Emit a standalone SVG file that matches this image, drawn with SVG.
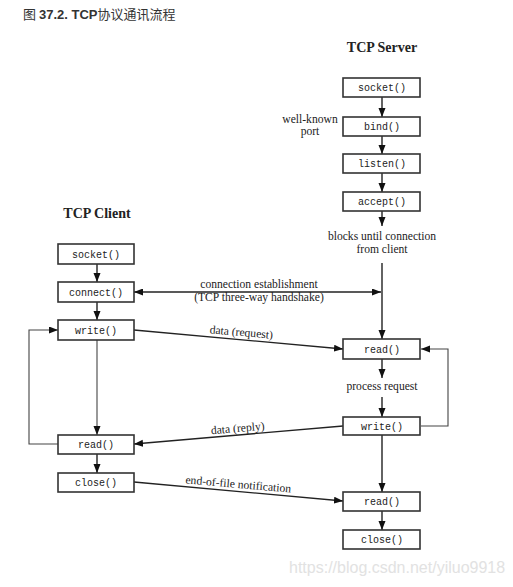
<svg xmlns="http://www.w3.org/2000/svg" width="513" height="587" viewBox="0 0 513 587">
<style>
.box{fill:#fff;stroke:#333;stroke-width:1.6}
.fn{font-family:"Liberation Mono","Courier New",monospace;font-size:10px;fill:#222;text-anchor:middle}
.lbl{font-family:"Liberation Serif","Times New Roman",serif;font-size:11.6px;fill:#222;text-anchor:middle}
.hd{font-family:"Liberation Serif","Times New Roman",serif;font-size:14px;font-weight:bold;fill:#222;text-anchor:middle}
.ln{fill:none;stroke:#222;stroke-width:1.4}
.thin{fill:none;stroke:#444;stroke-width:1.1}
</style>
<defs>
<marker id="ah" markerUnits="userSpaceOnUse" markerWidth="10" markerHeight="8" refX="9" refY="3.5" orient="auto">
<path d="M0,0 L9,3.5 L0,7 z" fill="#111"/>
</marker>
<marker id="ahs" markerUnits="userSpaceOnUse" markerWidth="10" markerHeight="8" refX="0" refY="3.5" orient="auto">
<path d="M9,0 L0,3.5 L9,7 z" fill="#111"/>
</marker>
</defs>
<rect width="513" height="587" fill="#fff"/>
<text x="23" y="19" font-family="'Noto Sans CJK SC',sans-serif" font-size="13" fill="#333">图 <tspan font-family="'Liberation Sans',Arial,sans-serif" font-weight="bold">37.2. TCP</tspan>协议通讯流程</text>

<text class="hd" x="382" y="52">TCP Server</text>
<text class="hd" x="97" y="218">TCP Client</text>

<g id="labels">
<text class="lbl" x="310" y="123">well-known</text>
<text class="lbl" x="310" y="135">port</text>
<text class="lbl" x="382" y="240">blocks until connection</text>
<text class="lbl" x="382" y="253">from client</text>
<text class="lbl" x="259" y="288">connection establishment</text>
<text class="lbl" x="259" y="301">(TCP three-way handshake)</text>
<text class="lbl" x="241" y="336" transform="rotate(5 241 336)">data (request)</text>
<text class="lbl" x="382" y="390">process request</text>
<text class="lbl" x="238" y="432" transform="rotate(-5 238 432)">data (reply)</text>
<text class="lbl" x="238" y="488" transform="rotate(5 238 488)">end-of-file notification</text>
</g>

<g id="connectors">
<line class="ln" x1="382" y1="97" x2="382" y2="117" marker-end="url(#ah)"/>
<line class="ln" x1="382" y1="136" x2="382" y2="154" marker-end="url(#ah)"/>
<line class="ln" x1="382" y1="173" x2="382" y2="192" marker-end="url(#ah)"/>
<line class="ln" x1="382" y1="211" x2="382" y2="226" marker-end="url(#ah)"/>
<line class="ln" x1="382" y1="263" x2="382" y2="339" marker-end="url(#ah)"/>
<line class="ln" x1="382" y1="359" x2="382" y2="378" marker-end="url(#ah)"/>
<line class="ln" x1="382" y1="397" x2="382" y2="417" marker-end="url(#ah)"/>
<line class="ln" x1="382" y1="435" x2="382" y2="492" marker-end="url(#ah)"/>
<line class="ln" x1="382" y1="511" x2="382" y2="530" marker-end="url(#ah)"/>
<polyline class="thin" points="421,426 448,426 448,349 421,349" marker-end="url(#ah)"/>

<line class="ln" x1="97" y1="264" x2="97" y2="282" marker-end="url(#ah)"/>
<line class="ln" x1="97" y1="302" x2="97" y2="320" marker-end="url(#ah)"/>
<line class="thin" x1="97" y1="340" x2="97" y2="435" marker-end="url(#ah)"/>
<line class="ln" x1="97" y1="454" x2="97" y2="473" marker-end="url(#ah)"/>
<polyline class="thin" points="58,444 29,444 29,330 58,330" marker-end="url(#ah)"/>

<line class="ln" x1="134" y1="292" x2="381" y2="292" marker-start="url(#ahs)" marker-end="url(#ah)"/>
<line class="ln" x1="134" y1="330" x2="343" y2="349" marker-end="url(#ah)"/>
<line class="ln" x1="343" y1="426" x2="134" y2="444" marker-end="url(#ah)"/>
<line class="ln" x1="134" y1="482" x2="343" y2="501" marker-end="url(#ah)"/>
</g>

<g id="s_socket"><rect class="box" x="343" y="78" width="77" height="19"/><text class="fn" x="382" y="91">socket()</text></g>
<g id="s_bind"><rect class="box" x="343" y="117" width="77" height="19"/><text class="fn" x="382" y="130">bind()</text></g>
<g id="s_listen"><rect class="box" x="343" y="154" width="77" height="19"/><text class="fn" x="382" y="167">listen()</text></g>
<g id="s_accept"><rect class="box" x="343" y="192" width="77" height="19"/><text class="fn" x="382" y="205">accept()</text></g>
<g id="s_read"><rect class="box" x="343" y="339" width="77" height="20"/><text class="fn" x="382" y="353">read()</text></g>
<g id="s_write"><rect class="box" x="343" y="417" width="77" height="18"/><text class="fn" x="382" y="430">write()</text></g>
<g id="s_read2"><rect class="box" x="343" y="492" width="77" height="19"/><text class="fn" x="382" y="505">read()</text></g>
<g id="s_close"><rect class="box" x="343" y="530" width="77" height="19"/><text class="fn" x="382" y="543">close()</text></g>

<g id="c_socket"><rect class="box" x="58" y="244" width="76" height="20"/><text class="fn" x="96" y="258">socket()</text></g>
<g id="c_connect"><rect class="box" x="58" y="282" width="76" height="20"/><text class="fn" x="96" y="296">connect()</text></g>
<g id="c_write"><rect class="box" x="58" y="320" width="76" height="20"/><text class="fn" x="96" y="334">write()</text></g>
<g id="c_read"><rect class="box" x="58" y="435" width="76" height="19"/><text class="fn" x="96" y="448">read()</text></g>
<g id="c_close"><rect class="box" x="58" y="473" width="76" height="19"/><text class="fn" x="96" y="486">close()</text></g>

<text x="289" y="573" font-family="'Liberation Sans',Arial,sans-serif" font-size="16" fill="#e2e2e2">https://blog.csdn.net/yiluo9918</text>
</svg>
